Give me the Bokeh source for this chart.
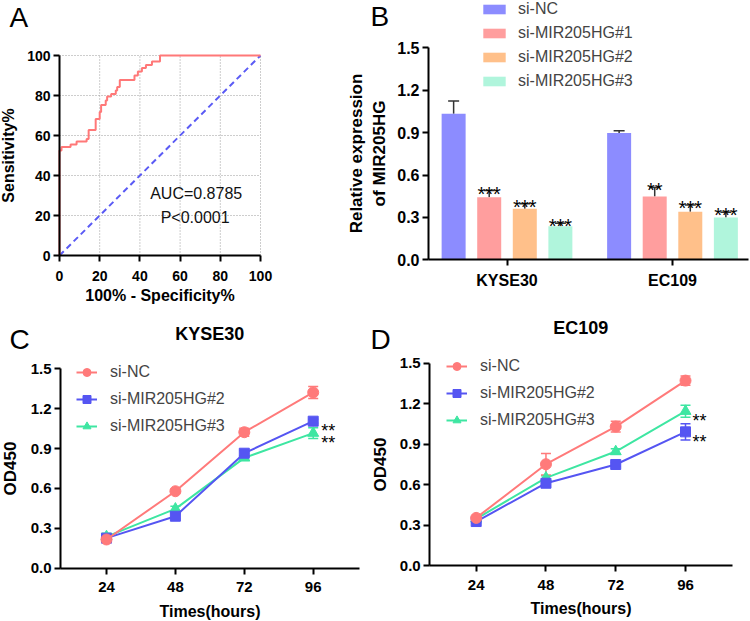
from bokeh.plotting import figure
from bokeh.models import (Range1d, FixedTicker, Legend, LegendItem, Whisker,
                          ColumnDataSource, Label, TeeHead)
from bokeh.layouts import row, column
from bokeh.embed import file_html
from bokeh.resources import INLINE
from bokeh.core.properties import value

FONT = "Liberation Sans"

# ---------------- Panel A data (ROC) ----------------
roc_fpr = [0, 0, 1, 5.5, 8.5, 13.5, 14.5, 18, 20, 20.7, 23, 23.7, 25.7, 28, 28.7,
           30, 37.3, 39, 41, 43, 46, 50, 100]
roc_tpr = [0, 52.5, 54.2, 55.5, 57, 58.3, 62.8, 68.3, 71.7, 75.3, 77.5, 79.5, 80.8,
           82.5, 84.2, 87.8, 90, 92, 93.7, 95.3, 97, 100, 100]
ref_x = [0, 100]
ref_y = [0, 100]
auc_text = "AUC=0.8785"
p_text = "P<0.0001"
a_ticks = [0, 20, 40, 60, 80, 100]

# ---------------- Panel B data (bars) ----------------
cells = ["KYSE30", "EC109"]
groups = ["si-NC", "si-MIR205HG#1", "si-MIR205HG#2", "si-MIR205HG#3"]
bar_vals = {
    "si-NC": [1.033, 0.898],
    "si-MIR205HG#1": [0.443, 0.448],
    "si-MIR205HG#2": [0.361, 0.340],
    "si-MIR205HG#3": [0.238, 0.300],
}
bar_errs = {
    "si-NC": [0.090, 0.015],
    "si-MIR205HG#1": [0.047, 0.064],
    "si-MIR205HG#2": [0.035, 0.047],
    "si-MIR205HG#3": [0.021, 0.037],
}
bar_sig = {
    "si-NC": ["", ""],
    "si-MIR205HG#1": ["***", "**"],
    "si-MIR205HG#2": ["***", "***"],
    "si-MIR205HG#3": ["***", "***"],
}
bar_colors = ["#8c8cff", "#ff9e9e", "#ffc08a", "#b0f5dc"]
y_ticks = [0, 0.3, 0.6, 0.9, 1.2, 1.5]

# ---------------- Panel C/D data (growth curves) ----------------
hours = [24, 48, 72, 96]
series = ["si-NC", "si-MIR205HG#2", "si-MIR205HG#3"]
c_vals = {
    "si-NC": [0.216, 0.579, 1.023, 1.322],
    "si-MIR205HG#2": [0.226, 0.391, 0.865, 1.106],
    "si-MIR205HG#3": [0.238, 0.446, 0.830, 1.016],
}
c_errs = {
    "si-NC": [0.015, 0.015, 0.030, 0.045],
    "si-MIR205HG#2": [0.012, 0.020, 0.020, 0.015],
    "si-MIR205HG#3": [0.025, 0.020, 0.015, 0.040],
}
c_sig = {"si-NC": "", "si-MIR205HG#2": "**", "si-MIR205HG#3": "**"}
d_vals = {
    "si-NC": [0.353, 0.751, 1.030, 1.371],
    "si-MIR205HG#2": [0.326, 0.610, 0.749, 0.991],
    "si-MIR205HG#3": [0.346, 0.650, 0.845, 1.144],
}
d_errs = {
    "si-NC": [0.010, 0.080, 0.040, 0.035],
    "si-MIR205HG#2": [0.010, 0.020, 0.015, 0.060],
    "si-MIR205HG#3": [0.010, 0.015, 0.020, 0.045],
}
d_sig = {"si-NC": "", "si-MIR205HG#2": "**", "si-MIR205HG#3": "**"}
line_colors = {"si-NC": "#ff7a7a", "si-MIR205HG#2": "#5555f2", "si-MIR205HG#3": "#3ee6a2"}
markers = {"si-NC": "circle", "si-MIR205HG#2": "square", "si-MIR205HG#3": "triangle"}


class PixMap:
    """Maps figure pixels (from top-left) to data coords; the frame fills the figure."""
    def __init__(self, W, H, xa, pxa, xb, pxb, ya, pya, yb, pyb):
        self.W, self.H = W, H
        self.sx = (pxb - pxa) / (xb - xa)
        self.x0 = xa - pxa / self.sx
        self.x1 = self.x0 + W / self.sx
        self.sy = (pya - pyb) / (yb - ya)
        self.y0 = ya - (H - pya) / self.sy
        self.y1 = self.y0 + H / self.sy

    def fx(self, px):
        return self.x0 + px / self.sx

    def fy(self, py):
        return self.y0 + (self.H - py) / self.sy


def make_fig(m):
    p = figure(width=m.W, height=m.H, min_border=0,
               x_range=Range1d(m.x0, m.x1), y_range=Range1d(m.y0, m.y1),
               output_backend="svg", toolbar_location=None)
    p.xgrid.visible = False
    p.ygrid.visible = False
    p.outline_line_color = None
    p.background_fill_color = "white"
    p.border_fill_color = "white"
    return p


def style_axes(p, tick_size, label_size, x_lab_off, y_lab_off, x_title_off, y_title_off):
    for ax in p.axis:
        ax.axis_line_width = 2
        ax.axis_line_color = "black"
        ax.major_tick_line_width = 2
        ax.major_tick_line_color = "black"
        ax.major_tick_out = 6
        ax.major_tick_in = 0
        ax.minor_tick_line_color = None
        ax.major_label_text_font = FONT
        ax.major_label_text_font_style = "bold"
        ax.major_label_text_font_size = f"{tick_size}px"
        ax.major_label_text_color = "black"
        ax.axis_label_text_font = FONT
        ax.axis_label_text_font_style = "bold"
        ax.axis_label_text_font_size = f"{label_size}px"
        ax.axis_label_text_color = "black"
    p.xaxis.major_label_standoff = x_lab_off
    p.yaxis.major_label_standoff = y_lab_off
    p.xaxis.axis_label_standoff = x_title_off
    p.yaxis.axis_label_standoff = y_title_off


def letter(p, m, text, px, py):
    p.add_layout(Label(x=m.fx(px), y=m.fy(py), text=text, text_font=FONT,
                       text_font_size="28px", text_align="left", text_baseline="top",
                       text_color="black"))


TOP_H = 306
BOT_H = 621 - TOP_H

# ---------------- Panel A ----------------
mA = PixMap(340, TOP_H, 0, 59, 100, 260, 0, 255, 100, 55)
pA = make_fig(mA)
pA.xaxis.fixed_location = 0
pA.yaxis.fixed_location = 0
pA.xaxis.bounds = (a_ticks[0], a_ticks[-1])
pA.yaxis.bounds = (a_ticks[0], a_ticks[-1])
pA.xaxis.ticker = FixedTicker(ticks=a_ticks)
pA.yaxis.ticker = FixedTicker(ticks=a_ticks)
pA.xaxis.axis_label = "100% - Specificity%"
pA.yaxis.axis_label = "Sensitivity%"
style_axes(pA, 14, 16, 9, 3, 3, 7)
gt = a_ticks[1:]
n = len(gt)
pA.segment(x0=gt, y0=[a_ticks[0]] * n, x1=gt, y1=[a_ticks[-1]] * n,
           line_color="#9a9a9a", line_dash="1 2", line_width=1)
pA.segment(x0=[a_ticks[0]] * n, y0=gt, x1=[a_ticks[-1]] * n, y1=gt,
           line_color="#9a9a9a", line_dash="1 2", line_width=1)
pA.line(ref_x, ref_y, line_color="#5b5bf5", line_width=2, line_dash="6 4")
pA.step(roc_fpr, roc_tpr, mode="after", line_color="#ff7878", line_width=2)
pA.add_layout(Label(x=68, y=31, text=auc_text, text_font=FONT, text_font_size="16px",
                    text_align="center", text_baseline="middle", text_color="#111111"))
pA.add_layout(Label(x=67.5, y=19, text=p_text, text_font=FONT, text_font_size="16px",
                    text_align="center", text_baseline="middle", text_color="#111111"))
letter(pA, mA, "A", 9, 1)

# ---------------- Panel B ----------------
B_X0 = 340
mB = PixMap(750 - B_X0, TOP_H, 1, 506.5 - B_X0, 2, 672 - B_X0, 0, 259.3, 1.5, 47.3)
pB = make_fig(mB)
b_axis_x = mB.fx(428 - B_X0)
pB.yaxis.fixed_location = b_axis_x
pB.xaxis.fixed_location = 0
pB.yaxis.bounds = (y_ticks[0], y_ticks[-1])
pB.xaxis.bounds = (b_axis_x, mB.fx(748 - B_X0))
group_pos = [1, 2]
step = 0.215
bw = 0.145
offsets = [(i - 1.5) * step for i in range(len(groups))]
b_items = []
for gi, grp in enumerate(groups):
    xs = [gp + offsets[gi] for gp in group_pos]
    tops = [v + e for v, e in zip(bar_vals[grp], bar_errs[grp])]
    src = ColumnDataSource(dict(x=xs, top=bar_vals[grp], upper=tops, sig=bar_sig[grp]))
    r = pB.vbar(x="x", top="top", bottom=0, width=bw, source=src,
                fill_color=bar_colors[gi], line_color=None)
    pB.add_layout(Whisker(base="x", upper="upper", lower="top", source=src,
                          line_color="#333333", line_width=1.5, lower_head=None,
                          upper_head=TeeHead(size=11, line_color="#333333", line_width=1.5)))
    pB.text(x="x", y="upper", text="sig", source=src, text_font=value(FONT),
            text_font_size="20px", text_align="center", text_baseline="alphabetic",
            y_offset=3, text_color="black")
    b_items.append(LegendItem(label=grp, renderers=[r]))
pB.xaxis.ticker = FixedTicker(ticks=group_pos)
pB.xaxis.major_label_overrides = {1: cells[0], 2: cells[1]}
pB.yaxis.ticker = FixedTicker(ticks=y_ticks)
pB.yaxis.major_label_overrides = {t: f"{t:.1f}" for t in y_ticks}
pB.yaxis.axis_label = "Relative expression\nof MIR205HG"
style_axes(pB, 16, 17, 6, 3, 6, 5)
legB = Legend(items=b_items, location=(480 - B_X0, TOP_H - 90), orientation="vertical",
              glyph_width=28, glyph_height=12, label_height=18, spacing=6,
              padding=0, margin=0, label_standoff=10,
              label_text_font=FONT, label_text_font_size="16px",
              border_line_color=None, background_fill_alpha=0)
pB.add_layout(legB)
letter(pB, mB, "B", 370 - B_X0, 0)


# ---------------- Panels C & D ----------------
def growth_panel(m, title, vals, errs, sig, leg_px, leg_top, sig_dx,
                 let, let_px, let_py, title_py, y_title_off):
    p = make_fig(m)
    p.xaxis.fixed_location = 0
    p.yaxis.fixed_location = 8
    p.xaxis.bounds = (8, 112)
    p.yaxis.bounds = (y_ticks[0], y_ticks[-1])
    p.xaxis.ticker = FixedTicker(ticks=hours)
    p.yaxis.ticker = FixedTicker(ticks=y_ticks)
    p.yaxis.major_label_overrides = {t: f"{t:.1f}" for t in y_ticks}
    p.xaxis.axis_label = "Times(hours)"
    p.yaxis.axis_label = "OD450"
    style_axes(p, 15, 16, 8, 3, 7, y_title_off)
    p.yaxis.axis_label_text_font_size = "17px"
    items = {}
    for s in reversed(series):
        col = line_colors[s]
        ys = vals[s]
        src = ColumnDataSource(dict(x=hours, y=ys,
                                    upper=[v + e for v, e in zip(ys, errs[s])],
                                    lower=[v - e for v, e in zip(ys, errs[s])]))
        p.add_layout(Whisker(base="x", upper="upper", lower="lower", source=src,
                             line_color=col, line_width=1.5,
                             upper_head=TeeHead(size=10, line_color=col, line_width=1.5),
                             lower_head=TeeHead(size=10, line_color=col, line_width=1.5)))
        rl = p.line("x", "y", source=src, line_color=col, line_width=2)
        sz = 11 if markers[s] != "square" else 10
        rm = p.scatter("x", "y", source=src, marker=markers[s], size=sz,
                       fill_color=col, line_color=col)
        items[s] = LegendItem(label=s, renderers=[rl, rm])
        if sig[s]:
            p.text(x=[hours[-1]], y=[ys[-1]], text=[sig[s]], text_font=value(FONT),
                   text_font_size="18px", text_align="left", text_baseline="alphabetic",
                   x_offset=sig_dx, y_offset=10, text_color="black")
    leg_h = 3 * 20 + 2 * 7
    leg = Legend(items=[items[s] for s in series],
                 location=(leg_px, m.H - (leg_top + leg_h)),
                 glyph_width=21, glyph_height=20, label_height=20, spacing=7,
                 padding=0, margin=0, label_standoff=13,
                 label_text_font=FONT, label_text_font_size="16px",
                 border_line_color=None, background_fill_alpha=0)
    p.add_layout(leg)
    p.add_layout(Label(x=(hours[0] + hours[-1]) / 2, y=m.fy(title_py), text=title,
                       text_font=FONT, text_font_size="18px", text_font_style="bold",
                       text_align="center", text_baseline="middle", text_color="black"))
    letter(p, m, let, let_px, let_py)
    return p


C_W = 368
mC = PixMap(C_W, BOT_H, 24, 106, 96, 312.7, 0, 567.7 - TOP_H, 1.5, 368.3 - TOP_H)
pC = growth_panel(mC, "KYSE30", c_vals, c_errs, c_sig, 76, 372 - 10 - TOP_H, 8,
                  "C", 9, 323 - TOP_H, 333 - TOP_H, 8)
mD = PixMap(750 - C_W, BOT_H, 24, 475.7 - C_W, 96, 685 - C_W, 0, 565 - TOP_H, 1.5,
            362.7 - TOP_H)
pD = growth_panel(mD, "EC109", d_vals, d_errs, d_sig, 446 - C_W, 366 - 10 - TOP_H, 7,
                  "D", 370 - C_W, 323 - TOP_H, 327 - TOP_H, 7)

layout = column(row(pA, pB), row(pC, pD))
open("out.html", "w").write(file_html(layout, INLINE))
